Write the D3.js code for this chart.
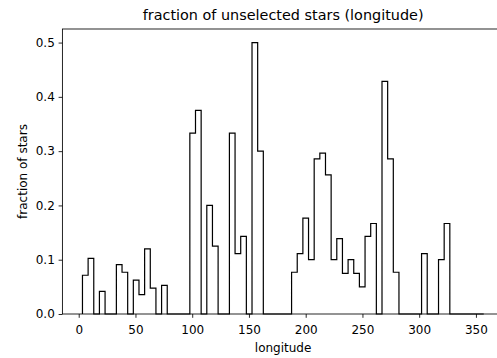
<!DOCTYPE html>
<html>
<head>
<meta charset="utf-8">
<script src="https://cdn.jsdelivr.net/npm/d3@7"></script>
<style>
  html, body { margin: 0; padding: 0; background: #fff; }
  svg { display: block; font-family: "DejaVu Sans", sans-serif; }
</style>
</head>
<body>
<svg id="chart" width="497" height="358"></svg>
<script>
// Histogram bins: first edge and bin width (degrees of longitude)
const binStart = 3.3;
const binWidth = 4.98;
// Fraction of unselected stars in each longitude bin
const fractions = [
  0.0714, 0.1026, 0, 0.0417, 0, 0, 0.0909, 0.0769, 0, 0.0625,
  0.0357, 0.12, 0.0476, 0, 0.0526, 0, 0, 0, 0, 0.3333,
  0.375, 0, 0.2, 0.125, 0, 0, 0.3333, 0.1111, 0.1429, 0,
  0.5, 0.3, 0, 0, 0, 0, 0, 0.0769, 0.1111, 0.1765,
  0.1, 0.2857, 0.2963, 0.2564, 0.1, 0.1389, 0.075, 0.1, 0.075, 0.05,
  0.1429, 0.1667, 0, 0.4286, 0.2857, 0.0769, 0, 0, 0, 0,
  0.1111, 0, 0, 0.1, 0.1667, 0, 0, 0, 0, 0, 0
];
const xTicks = [0, 50, 100, 150, 200, 250, 300, 350];
const yTicks = [0, 0.1, 0.2, 0.3, 0.4, 0.5];
const titleText = "fraction of unselected stars (longitude)";
const xLabelText = "longitude";
const yLabelText = "fraction of stars";

const svg = d3.select("#chart");
const plot = { left: 62.4, right: 503.8, top: 29, bottom: 314 };

const edges = d3.range(fractions.length + 1).map(i => binStart + i * binWidth);
const span = edges[edges.length - 1] - edges[0];
const x = d3.scaleLinear()
  .domain([edges[0] - 0.05 * span, edges[edges.length - 1] + 0.05 * span])
  .range([plot.left, plot.right]);
const y = d3.scaleLinear()
  .domain([0, d3.max(fractions) * 1.05])
  .range([plot.bottom, plot.top]);

const fontSize = 12;
const tickLen = 3.8;
const tickPad = 3.8;

// Step outline of the histogram
const pts = [[edges[0], 0]];
fractions.forEach((v, i) => {
  pts.push([edges[i], v]);
  pts.push([edges[i + 1], v]);
});
pts.push([edges[edges.length - 1], 0]);
const line = d3.line().x(d => x(d[0])).y(d => y(d[1]));
svg.append("path")
  .attr("d", line(pts))
  .attr("fill", "none")
  .attr("stroke", "#000")
  .attr("stroke-width", 1.2)
  .attr("stroke-linejoin", "miter");

// Axes
const xAxis = svg.append("g")
  .attr("transform", `translate(0,${plot.bottom})`)
  .call(d3.axisBottom(x).tickValues(xTicks).tickSize(tickLen).tickSizeOuter(0).tickFormat(d3.format("d")));
xAxis.select(".domain").remove();
xAxis.selectAll(".tick line").attr("stroke", "#000").attr("stroke-width", 0.85);
xAxis.selectAll(".tick text")
  .attr("y", 19.5)
  .attr("dy", null)
  .attr("font-size", fontSize)
  .attr("font-family", "DejaVu Sans")
  .attr("fill", "#000");

const yAxis = svg.append("g")
  .attr("transform", `translate(${plot.left},0)`)
  .call(d3.axisLeft(y).tickValues(yTicks).tickSize(tickLen).tickPadding(tickPad).tickSizeOuter(0).tickFormat(d3.format(".1f")));
yAxis.select(".domain").remove();
yAxis.selectAll(".tick line").attr("stroke", "#000").attr("stroke-width", 0.85);
yAxis.selectAll(".tick text")
  .attr("font-size", fontSize)
  .attr("font-family", "DejaVu Sans")
  .attr("fill", "#000");

// Frame
svg.append("rect")
  .attr("x", plot.left).attr("y", plot.top)
  .attr("width", plot.right - plot.left).attr("height", plot.bottom - plot.top)
  .attr("fill", "none").attr("stroke", "#000").attr("stroke-width", 0.85);

// Labels
const cx = (plot.left + plot.right) / 2;
svg.append("text")
  .attr("x", cx).attr("y", 19.5)
  .attr("text-anchor", "middle")
  .attr("font-size", 14.4)
  .text(titleText);
svg.append("text")
  .attr("x", cx).attr("y", 351.5)
  .attr("text-anchor", "middle")
  .attr("font-size", fontSize)
  .text(xLabelText);
svg.append("text")
  .attr("transform", `translate(26.5,${(plot.top + plot.bottom) / 2}) rotate(-90)`)
  .attr("text-anchor", "middle")
  .attr("font-size", fontSize)
  .text(yLabelText);
</script>
</body>
</html>
